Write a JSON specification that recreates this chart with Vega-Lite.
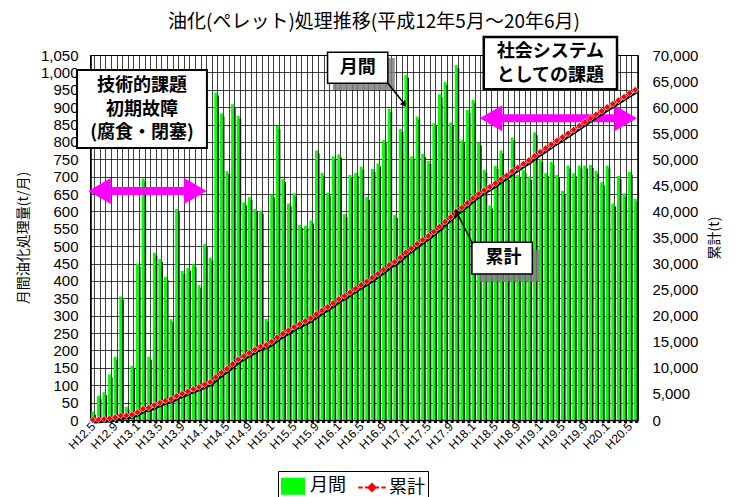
{
 "$schema": "https://vega.github.io/schema/vega-lite/v6.json",
 "width": 548, "height": 365,
 "autosize": {"type": "none"},
 "padding": {"left": 90, "top": 55, "right": 104, "bottom": 77},
 "background": "white",
 "title": {"text": "油化(ペレット)処理推移(平成12年5月～20年6月)", "font": "Noto Sans CJK JP", "fontSize": 19, "fontWeight": "normal", "color": "#000", "offset": 4, "dx": 10},
 "config": {
  "view": {"stroke": "#000", "strokeWidth": 1},
  "axis": {"labelFont": "Liberation Sans", "labelColor": "#000", "titleFont": "Noto Sans CJK JP", "titleColor": "#000", "titleFontWeight": "normal"},
  "legend": {"labelFont": "Noto Sans CJK JP", "labelFontSize": 18, "labelColor": "#000", "symbolSize": 484, "strokeColor": "#000", "padding": 3, "columnPadding": 8, "labelOffset": 5}
 },
 "datasets": {
  "m": [
   {"m":"H12.5","v":24,"c":24},{"m":"H12.6","v":70,"c":94},{"m":"H12.7","v":80,"c":174},{"m":"H12.8","v":131,"c":305},
   {"m":"H12.9","v":182,"c":487},{"m":"H12.10","v":355,"c":842},{"m":"H12.11","v":38,"c":880},{"m":"H12.12","v":156,"c":1036},
   {"m":"H13.1","v":450,"c":1486},{"m":"H13.2","v":695,"c":2181},{"m":"H13.3","v":182,"c":2363},{"m":"H13.4","v":481,"c":2844},
   {"m":"H13.5","v":463,"c":3307},{"m":"H13.6","v":412,"c":3719},{"m":"H13.7","v":290,"c":4009},{"m":"H13.8","v":607,"c":4616},
   {"m":"H13.9","v":429,"c":5045},{"m":"H13.10","v":438,"c":5483},{"m":"H13.11","v":448,"c":5931},{"m":"H13.12","v":388,"c":6319},
   {"m":"H14.1","v":506,"c":6825},{"m":"H14.2","v":467,"c":7292},{"m":"H14.3","v":942,"c":8234},{"m":"H14.4","v":882,"c":9116},
   {"m":"H14.5","v":716,"c":9832},{"m":"H14.6","v":908,"c":10740},{"m":"H14.7","v":875,"c":11615},{"m":"H14.8","v":626,"c":12241},
   {"m":"H14.9","v":641,"c":12882},{"m":"H14.10","v":607,"c":13489},{"m":"H14.11","v":602,"c":14091},{"m":"H14.12","v":291,"c":14382},
   {"m":"H15.1","v":649,"c":15031},{"m":"H15.2","v":846,"c":15877},{"m":"H15.3","v":693,"c":16570},{"m":"H15.4","v":623,"c":17193},
   {"m":"H15.5","v":652,"c":17845},{"m":"H15.6","v":561,"c":18406},{"m":"H15.7","v":559,"c":18965},{"m":"H15.8","v":574,"c":19539},
   {"m":"H15.9","v":775,"c":20314},{"m":"H15.10","v":711,"c":21025},{"m":"H15.11","v":654,"c":21679},{"m":"H15.12","v":758,"c":22437},
   {"m":"H16.1","v":764,"c":23201},{"m":"H16.2","v":592,"c":23793},{"m":"H16.3","v":705,"c":24498},{"m":"H16.4","v":711,"c":25209},
   {"m":"H16.5","v":729,"c":25938},{"m":"H16.6","v":642,"c":26580},{"m":"H16.7","v":722,"c":27302},{"m":"H16.8","v":738,"c":28040},
   {"m":"H16.9","v":805,"c":28845},{"m":"H16.10","v":895,"c":29740},{"m":"H16.11","v":590,"c":30330},{"m":"H16.12","v":837,"c":31167},
   {"m":"H17.1","v":993,"c":32160},{"m":"H17.2","v":758,"c":32918},{"m":"H17.3","v":873,"c":33791},{"m":"H17.4","v":766,"c":34557},
   {"m":"H17.5","v":745,"c":35302},{"m":"H17.6","v":854,"c":36156},{"m":"H17.7","v":937,"c":37093},{"m":"H17.8","v":972,"c":38065},
   {"m":"H17.9","v":856,"c":38921},{"m":"H17.10","v":1021,"c":39942},{"m":"H17.11","v":805,"c":40747},{"m":"H17.12","v":892,"c":41639},
   {"m":"H18.1","v":921,"c":42560},{"m":"H18.2","v":799,"c":43359},{"m":"H18.3","v":720,"c":44079},{"m":"H18.4","v":617,"c":44696},
   {"m":"H18.5","v":731,"c":45427},{"m":"H18.6","v":775,"c":46202},{"m":"H18.7","v":700,"c":46902},{"m":"H18.8","v":813,"c":47715},
   {"m":"H18.9","v":705,"c":48420},{"m":"H18.10","v":719,"c":49139},{"m":"H18.11","v":700,"c":49839},{"m":"H18.12","v":828,"c":50667},
   {"m":"H19.1","v":750,"c":51417},{"m":"H19.2","v":710,"c":52127},{"m":"H19.3","v":743,"c":52870},{"m":"H19.4","v":705,"c":53575},
   {"m":"H19.5","v":659,"c":54234},{"m":"H19.6","v":732,"c":54966},{"m":"H19.7","v":710,"c":55676},{"m":"H19.8","v":732,"c":56408},
   {"m":"H19.9","v":732,"c":57140},{"m":"H19.10","v":734,"c":57874},{"m":"H19.11","v":717,"c":58591},{"m":"H19.12","v":684,"c":59275},
   {"m":"H20.1","v":732,"c":60007},{"m":"H20.2","v":623,"c":60630},{"m":"H20.3","v":702,"c":61332},{"m":"H20.4","v":652,"c":61984},
   {"m":"H20.5","v":714,"c":62698},{"m":"H20.6","v":636,"c":63334}
  ]
 },
 "layer": [
  {
   "data": {"name": "m"},
   "encoding": {
    "x": {"field": "m", "type": "nominal", "sort": null,
          "scale": {"type": "band", "paddingInner": 0.46, "paddingOuter": 0.23},
          "axis": {"title": null, "grid": true, "tickBand": "extent", "gridColor": "#000", "gridOpacity": 0.75, "gridWidth": 1,
                   "ticks": false, "domainColor": "#000", "domainWidth": 1.5, "labelAngle": -45, "labelAlign": "right",
                   "labelBaseline": "middle", "labelFontSize": 12, "labelPadding": 4, "labelOverlap": false,
                   "labelExpr": "test(regexp('\\\\.(1|5|9)$'), datum.value) ? datum.value : ''"}},
    "y": {"field": "v", "type": "quantitative", "scale": {"domain": [0, 1050], "nice": false},
          "axis": {"title": "月間油化処理量(t/月)", "values": [0,50,100,150,200,250,300,350,400,450,500,550,600,650,700,750,800,850,900,950,1000,1050],
                   "format": ",d", "grid": true, "gridColor": "#000", "gridOpacity": 0.75, "ticks": false, "domain": false,
                   "labelFontSize": 15, "labelPadding": 12, "titleFontSize": 14, "titlePadding": 10}}
   },
   "layer": [
    {"mark": {"type": "bar", "color": "#000", "xOffset": 1.5, "yOffset": 3}},
    {"mark": {"type": "bar"},
     "encoding": {"color": {"datum": "月間", "type": "nominal", "scale": {"domain": ["月間", "累計"], "range": ["#00ff00", "#ff0000"]},
       "legend": {"title": null, "orient": "none", "legendX": 188, "legendY": 416, "direction": "horizontal",
         "encode": {"symbols": {"update": {
           "shape": {"signal": "datum.value === '累計' ? 'M-1.25,0H-0.85M-0.65,0H-0.3M0,-0.32L0.32,0L0,0.32L-0.32,0ZM0.3,0H0.65M0.85,0H1.25' : 'M-1,-0.68H1V0.68H-1Z'"},
           "fill": {"signal": "datum.value === '累計' ? '#ff0000' : '#00ff00'"},
           "stroke": {"signal": "datum.value === '累計' ? '#ff0000' : '#00ff00'"},
           "strokeWidth": {"value": 2},
           "opacity": {"value": 1}}}}}}}}
   ]
  },
  {
   "data": {"values": [{}]},
   "layer": [
    {"mark": {"type": "rule", "color": "#ff00ff", "strokeWidth": 8, "strokeCap": "butt"},
     "encoding": {"x": {"datum": 1.71, "type": "quantitative", "scale": {"domain": [0, 98], "nice": false, "zero": false}, "axis": null},
                  "x2": {"datum": 18.84}, "y": {"datum": 658.8, "type": "quantitative", "scale": {"domain": [0, 1050], "nice": false}, "axis": null}}},
    {"mark": {"type": "point", "shape": "triangle-left", "filled": true, "color": "#ff00ff", "size": 676, "opacity": 1},
     "encoding": {"x": {"datum": 1.71, "type": "quantitative"}, "y": {"datum": 658.8, "type": "quantitative"}}},
    {"mark": {"type": "point", "shape": "triangle-right", "filled": true, "color": "#ff00ff", "size": 676, "opacity": 1},
     "encoding": {"x": {"datum": 18.84, "type": "quantitative"}, "y": {"datum": 658.8, "type": "quantitative"}}},
    {"mark": {"type": "rule", "color": "#ff00ff", "strokeWidth": 8, "strokeCap": "butt"},
     "encoding": {"x": {"datum": 71.72, "type": "quantitative"}, "x2": {"datum": 95.8}, "y": {"datum": 867.9, "type": "quantitative"}}},
    {"mark": {"type": "point", "shape": "triangle-left", "filled": true, "color": "#ff00ff", "size": 676, "opacity": 1},
     "encoding": {"x": {"datum": 71.72, "type": "quantitative"}, "y": {"datum": 867.9, "type": "quantitative"}}},
    {"mark": {"type": "point", "shape": "triangle-right", "filled": true, "color": "#ff00ff", "size": 676, "opacity": 1},
     "encoding": {"x": {"datum": 95.8, "type": "quantitative"}, "y": {"datum": 867.9, "type": "quantitative"}}}
   ]
  },
  {
   "data": {"name": "m"},
   "encoding": {
    "x": {"field": "m", "type": "nominal", "sort": null, "scale": {"type": "band", "paddingInner": 0.46, "paddingOuter": 0.23}, "axis": null},
    "y": {"field": "c", "type": "quantitative", "scale": {"domain": [0, 70000], "nice": false},
          "axis": {"orient": "right", "title": "累計(t)", "values": [0,5000,10000,15000,20000,25000,30000,35000,40000,45000,50000,55000,60000,65000,70000],
                   "format": ",d", "grid": false, "ticks": false, "domain": false, "labelFontSize": 15, "labelPadding": 14,
                   "titleFontSize": 14, "titleAngle": 270, "titleBaseline": "top", "titlePadding": 10}}
   },
   "layer": [
    {"mark": {"type": "line", "color": "#000", "strokeWidth": 2.5, "xOffset": 1.5, "yOffset": 2.5}},
    {"mark": {"type": "line", "strokeWidth": 2}, "encoding": {"color": {"datum": "累計", "type": "nominal"}}},
    {"mark": {"type": "point", "shape": "diamond", "filled": true, "color": "#ff0000", "stroke": "#ffffff", "strokeWidth": 0.6, "size": 45, "opacity": 1}}
   ]
  },
  {
   "data": {"values": [{}]},
   "layer": [
    {"mark": {"type": "rect", "fill": "#ffffff", "stroke": "#000", "strokeWidth": 2},
     "encoding": {"x": {"datum": -2.32, "type": "quantitative", "scale": {"domain": [0, 98], "nice": false, "zero": false}, "axis": null},
                  "x2": {"datum": 20.91},
                  "y": {"datum": 1006.8, "type": "quantitative", "scale": {"domain": [0, 1050], "nice": false}, "axis": null},
                  "y2": {"datum": 782.5}}},
    {"mark": {"type": "text", "font": "Noto Sans CJK JP", "fontWeight": "bold", "fontSize": 18, "align": "center", "baseline": "middle", "lineHeight": 23.5, "color": "#000"},
     "encoding": {"x": {"datum": 9.3, "type": "quantitative"}, "y": {"datum": 960.8, "type": "quantitative"},
                  "text": {"value": ["技術的課題", "初期故障", "(腐食・閉塞)"]}}},
    {"mark": {"type": "rect", "fill": "#808080", "opacity": 0.85},
     "encoding": {"x": {"datum": 43.43, "type": "quantitative"}, "x2": {"datum": 54.51},
                  "y": {"datum": 1041.4, "type": "quantitative"}, "y2": {"datum": 949.3}}},
    {"mark": {"type": "rect", "fill": "#ffffff", "stroke": "#000", "strokeWidth": 1.5},
     "encoding": {"x": {"datum": 42.48, "type": "quantitative"}, "x2": {"datum": 53.26},
                  "y": {"datum": 1057.8, "type": "quantitative"}, "y2": {"datum": 968.6}}},
    {"mark": {"type": "text", "font": "Noto Sans CJK JP", "fontWeight": "bold", "fontSize": 18, "align": "center", "baseline": "middle", "color": "#000"},
     "encoding": {"x": {"datum": 47.9, "type": "quantitative"}, "y": {"datum": 1013.2, "type": "quantitative"}, "text": {"value": "月間"}}},
    {"mark": {"type": "rule", "color": "#000", "strokeWidth": 1.5},
     "encoding": {"x": {"datum": 53.26, "type": "quantitative"}, "x2": {"datum": 56.2},
                  "y": {"datum": 968.6, "type": "quantitative"}, "y2": {"datum": 910}}},
    {"mark": {"type": "point", "shape": "triangle", "filled": true, "color": "#000", "size": 45, "angle": 141, "opacity": 1},
     "encoding": {"x": {"datum": 56.1, "type": "quantitative"}, "y": {"datum": 910, "type": "quantitative"}}},
    {"mark": {"type": "rect", "fill": "#ffffff", "stroke": "#000", "strokeWidth": 2.5},
     "encoding": {"x": {"datum": 70.42, "type": "quantitative"}, "x2": {"datum": 94.25},
                  "y": {"datum": 1101.8, "type": "quantitative"}, "y2": {"datum": 951.3}}},
    {"mark": {"type": "text", "font": "Noto Sans CJK JP", "fontWeight": "bold", "fontSize": 18, "align": "center", "baseline": "middle", "lineHeight": 24, "color": "#000"},
     "encoding": {"x": {"datum": 82.33, "type": "quantitative"}, "y": {"datum": 1058.6, "type": "quantitative"},
                  "text": {"value": ["社会システム", "としての課題"]}}},
    {"mark": {"type": "rect", "fill": "#808080", "opacity": 0.85},
     "encoding": {"x": {"datum": 69.7, "type": "quantitative"}, "x2": {"datum": 80.43},
                  "y": {"datum": 489.9, "type": "quantitative"}, "y2": {"datum": 397.9}}},
    {"mark": {"type": "rect", "fill": "#ffffff", "stroke": "#000", "strokeWidth": 1.5},
     "encoding": {"x": {"datum": 68.3, "type": "quantitative"}, "x2": {"datum": 79.1},
                  "y": {"datum": 511.2, "type": "quantitative"}, "y2": {"datum": 420.0}}},
    {"mark": {"type": "text", "font": "Noto Sans CJK JP", "fontWeight": "bold", "fontSize": 18, "align": "center", "baseline": "middle", "color": "#000"},
     "encoding": {"x": {"datum": 73.94, "type": "quantitative"}, "y": {"datum": 465.5, "type": "quantitative"}, "text": {"value": "累計"}}},
    {"mark": {"type": "rule", "color": "#000", "strokeWidth": 1.5},
     "encoding": {"x": {"datum": 68.45, "type": "quantitative"}, "x2": {"datum": 65.6},
                  "y": {"datum": 506.3, "type": "quantitative"}, "y2": {"datum": 597}}},
    {"mark": {"type": "point", "shape": "triangle", "filled": true, "color": "#000", "size": 45, "angle": 333, "opacity": 1},
     "encoding": {"x": {"datum": 65.6, "type": "quantitative"}, "y": {"datum": 597, "type": "quantitative"}}}
   ]
  }
 ],
 "resolve": {"scale": {"x": "independent", "y": "independent"}}
}
